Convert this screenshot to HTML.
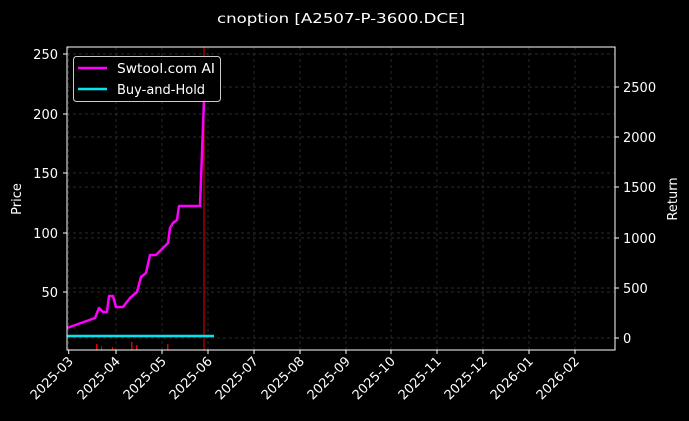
<!DOCTYPE html>
<html><head><style>
html,body{margin:0;padding:0;background:#000;overflow:hidden;width:689px;height:421px;}
svg{display:block;}
text{font-family:"DejaVu Sans",sans-serif;fill:#fff;font-size:13px;}
</style></head><body>
<svg width="689" height="421" xmlns="http://www.w3.org/2000/svg">
<rect width="689" height="421" fill="#000"/>
<text x="217" y="23" font-size="15" textLength="248" lengthAdjust="spacingAndGlyphs">cnoption [A2507-P-3600.DCE]</text>
<g stroke="#3a3a3a" stroke-dasharray="3,3" stroke-width="0.7">
<line x1="68.7" y1="47" x2="68.7" y2="350"/><line x1="116" y1="47" x2="116" y2="350"/><line x1="162" y1="47" x2="162" y2="350"/><line x1="208" y1="47" x2="208" y2="350"/><line x1="254" y1="47" x2="254" y2="350"/><line x1="300" y1="47" x2="300" y2="350"/><line x1="346" y1="47" x2="346" y2="350"/><line x1="391" y1="47" x2="391" y2="350"/><line x1="437" y1="47" x2="437" y2="350"/><line x1="483" y1="47" x2="483" y2="350"/><line x1="529" y1="47" x2="529" y2="350"/><line x1="575" y1="47" x2="575" y2="350"/>
<line x1="67" y1="54" x2="615" y2="54"/><line x1="67" y1="114" x2="615" y2="114"/><line x1="67" y1="173" x2="615" y2="173"/><line x1="67" y1="233" x2="615" y2="233"/><line x1="67" y1="292" x2="615" y2="292"/>
<line x1="67" y1="87" x2="615" y2="87"/><line x1="67" y1="137" x2="615" y2="137"/><line x1="67" y1="187" x2="615" y2="187"/><line x1="67" y1="238" x2="615" y2="238"/><line x1="67" y1="288" x2="615" y2="288"/><line x1="67" y1="338" x2="615" y2="338"/>
</g>
<g fill="#d00">
<rect x="96" y="344" width="1.5" height="6"/><rect x="131" y="342" width="1.5" height="8"/><rect x="136" y="345" width="1.5" height="5"/><rect x="167" y="344" width="1.5" height="6"/><rect x="101" y="346" width="1" height="4"/><rect x="112" y="347" width="1" height="3"/>
</g>
<line x1="204" y1="47" x2="204" y2="350" stroke="#e00" stroke-width="1"/>
<line x1="67" y1="336" x2="214" y2="336" stroke="#00e5ee" stroke-width="2.5"/>
<polyline fill="none" stroke="#f0f" stroke-width="2.5" stroke-linejoin="round" points="67,328 95,318 99,308 103,312 107,312 109,296 113,296 116,307 123,307 130,298 137,292 141,277 146,273 150,255 156,255 168,243 170,228 173,223 177,220 179,206 200,206 204,100 205,57"/>
<rect x="67" y="47" width="548" height="303" fill="none" stroke="#fff" stroke-width="1"/>
<g stroke="#fff">
<line x1="63" y1="54" x2="67" y2="54"/><line x1="63" y1="114" x2="67" y2="114"/><line x1="63" y1="173" x2="67" y2="173"/><line x1="63" y1="233" x2="67" y2="233"/><line x1="63" y1="292" x2="67" y2="292"/>
<line x1="615" y1="87" x2="619" y2="87"/><line x1="615" y1="137" x2="619" y2="137"/><line x1="615" y1="187" x2="619" y2="187"/><line x1="615" y1="238" x2="619" y2="238"/><line x1="615" y1="288" x2="619" y2="288"/><line x1="615" y1="338" x2="619" y2="338"/>
<line x1="68.7" y1="350" x2="68.7" y2="354"/><line x1="116" y1="350" x2="116" y2="354"/><line x1="162" y1="350" x2="162" y2="354"/><line x1="208" y1="350" x2="208" y2="354"/><line x1="254" y1="350" x2="254" y2="354"/><line x1="300" y1="350" x2="300" y2="354"/><line x1="346" y1="350" x2="346" y2="354"/><line x1="391" y1="350" x2="391" y2="354"/><line x1="437" y1="350" x2="437" y2="354"/><line x1="483" y1="350" x2="483" y2="354"/><line x1="529" y1="350" x2="529" y2="354"/><line x1="575" y1="350" x2="575" y2="354"/>
</g>
<g text-anchor="end">
<text x="58" y="59">250</text><text x="58" y="119">200</text><text x="58" y="178">150</text><text x="58" y="238">100</text><text x="58" y="297">50</text>
</g>
<g>
<text x="623" y="92">2500</text><text x="623" y="142">2000</text><text x="623" y="192">1500</text><text x="623" y="243">1000</text><text x="623" y="293">500</text><text x="623" y="343">0</text>
</g>
<text transform="translate(21,199) rotate(-90)" text-anchor="middle">Price</text>
<text transform="translate(677,199) rotate(-90)" text-anchor="middle">Return</text>
<g text-anchor="end">
<text transform="translate(74,362) rotate(-45)">2025-03</text>
<text transform="translate(121,362) rotate(-45)">2025-04</text>
<text transform="translate(167,362) rotate(-45)">2025-05</text>
<text transform="translate(213,362) rotate(-45)">2025-06</text>
<text transform="translate(259,362) rotate(-45)">2025-07</text>
<text transform="translate(305,362) rotate(-45)">2025-08</text>
<text transform="translate(351,362) rotate(-45)">2025-09</text>
<text transform="translate(396,362) rotate(-45)">2025-10</text>
<text transform="translate(442,362) rotate(-45)">2025-11</text>
<text transform="translate(488,362) rotate(-45)">2025-12</text>
<text transform="translate(534,362) rotate(-45)">2026-01</text>
<text transform="translate(580,362) rotate(-45)">2026-02</text>
</g>
<rect x="73.5" y="56.5" width="147" height="45" rx="3" fill="#000" stroke="#ccc" stroke-width="1"/>
<line x1="78" y1="68" x2="107" y2="68" stroke="#f0f" stroke-width="2.5"/>
<line x1="78" y1="89" x2="107" y2="89" stroke="#00e5ee" stroke-width="2.5"/>
<text x="117" y="73" textLength="98" lengthAdjust="spacingAndGlyphs">Swtool.com AI</text>
<text x="117" y="94">Buy-and-Hold</text>
</svg>
</body></html>
